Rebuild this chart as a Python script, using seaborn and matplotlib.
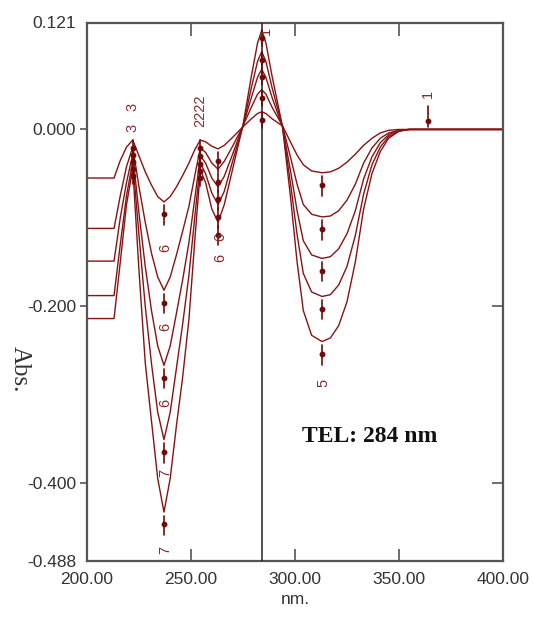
import numpy as np
import pandas as pd
import matplotlib
matplotlib.use("Agg")
import matplotlib.pyplot as plt
import seaborn as sns

# ---------------- data ----------------
wavelength = [200, 213, 216, 219, 222, 225, 228, 231, 234, 237, 240, 243, 246, 249, 252,
              254.5, 257, 260, 263, 266, 270, 275, 279, 282, 284, 286, 289, 294, 298, 301,
              304, 308, 313, 317, 321, 325, 329, 333, 337, 341, 345, 350, 355, 400]

curve_1 = [-0.055, -0.055, -0.035, -0.020, -0.012, -0.030, -0.048, -0.063, -0.076, -0.082,
           -0.076, -0.065, -0.052, -0.038, -0.022, -0.012, -0.014, -0.019, -0.022, -0.018,
           -0.009, 0.003, 0.012, 0.018, 0.020, 0.018, 0.012, 0.004, -0.015, -0.029,
           -0.040, -0.047, -0.049, -0.048, -0.044, -0.037, -0.028, -0.018, -0.010, -0.004,
           -0.001, 0.0, 0.0, 0.0]
curve_2 = [-0.112, -0.112, -0.075, -0.042, -0.020, -0.065, -0.105, -0.140, -0.167, -0.182,
           -0.167, -0.142, -0.115, -0.087, -0.050, -0.021, -0.026, -0.038, -0.045, -0.036,
           -0.019, 0.004, 0.025, 0.040, 0.045, 0.040, 0.025, 0.004, -0.033, -0.062,
           -0.085, -0.096, -0.099, -0.098, -0.092, -0.080, -0.062, -0.038, -0.021, -0.010,
           -0.004, -0.001, 0.0, 0.0]
curve_3 = [-0.149, -0.149, -0.100, -0.060, -0.028, -0.095, -0.155, -0.205, -0.245, -0.267,
           -0.245, -0.208, -0.170, -0.128, -0.075, -0.030, -0.038, -0.055, -0.065, -0.053,
           -0.028, 0.004, 0.036, 0.059, 0.068, 0.059, 0.036, 0.003, -0.049, -0.092,
           -0.126, -0.142, -0.146, -0.144, -0.135, -0.118, -0.092, -0.056, -0.031, -0.015,
           -0.006, -0.001, 0.0, 0.0]
curve_4 = [-0.188, -0.188, -0.130, -0.075, -0.036, -0.120, -0.200, -0.265, -0.320, -0.351,
           -0.320, -0.270, -0.220, -0.165, -0.095, -0.038, -0.050, -0.072, -0.085, -0.070,
           -0.036, 0.004, 0.047, 0.077, 0.088, 0.077, 0.047, 0.003, -0.064, -0.119,
           -0.163, -0.184, -0.189, -0.187, -0.176, -0.155, -0.120, -0.073, -0.040, -0.020,
           -0.008, -0.002, 0.0, 0.0]
curve_5 = [-0.214, -0.214, -0.150, -0.085, -0.044, -0.160, -0.264, -0.330, -0.395, -0.433,
           -0.395, -0.335, -0.280, -0.215, -0.120, -0.046, -0.060, -0.090, -0.105, -0.085,
           -0.045, 0.005, 0.060, 0.098, 0.112, 0.098, 0.060, 0.003, -0.080, -0.150,
           -0.205, -0.233, -0.240, -0.236, -0.222, -0.195, -0.150, -0.090, -0.050, -0.025,
           -0.010, -0.002, 0.0, 0.0]

curve_names = ["1", "2", "3", "4", "5"]
curves = [curve_1, curve_2, curve_3, curve_4, curve_5]

peak_nm = [222, 254.5, 284]
valley_nm = [237, 263, 313]

x_ticks = [200, 250, 300, 350, 400]
x_tick_labels = ["200.00", "250.00", "300.00", "350.00", "400.00"]
y_ticks = [0.121, 0.0, -0.2, -0.4, -0.488]
y_tick_labels = ["0.121", "0.000", "-0.200", "-0.400", "-0.488"]

tel_nm = 284
tel_text = "TEL: 284 nm"

# peak-pick labels: (text, nm, value)
pick_labels = [("3", 222, 0.025), ("3", 222, 0.002), ("2222", 254.5, 0.021),
               ("6", 237.5, -0.134), ("6", 237.5, -0.224), ("6", 237.5, -0.309),
               ("7", 237.5, -0.389), ("7", 237.5, -0.476),
               ("6", 264, -0.122), ("6", 264, -0.145),
               ("5", 313.5, -0.287), ("1", 364, 0.040), ("1", 286, 0.112)]

# ---------------- figure ----------------
sns.set_style("white")
plt.rcParams["font.family"] = ["Liberation Sans", "DejaVu Sans"]

line_col = "#861313"
dot_col = "#6e0a0a"
spine_col = "#555555"

df = pd.concat([pd.DataFrame({"nm": wavelength, "abs": c, "curve": n})
                for n, c in zip(curve_names, curves)], ignore_index=True)

fig = plt.figure(figsize=(5.34, 6.19), dpi=100)
ax = fig.add_axes([87 / 534, 1 - 560.7 / 619, (503 - 87) / 534, (560.7 - 22.5) / 619])

sns.lineplot(data=df, x="nm", y="abs", hue="curve", estimator=None, sort=True,
             palette=[line_col] * 5, linewidth=1.0, legend=False, ax=ax)

# TEL line
ax.axvline(tel_nm, color="#222222", linewidth=1.1, zorder=3)

# peak-pick markers
for c in curves:
    for p in peak_nm:
        v = c[wavelength.index(p)]
        ax.plot([p, p], [v - 0.018, v], color=dot_col, linewidth=1.2, zorder=4)
        ax.plot([p], [v - 0.009], "o", color=dot_col, markersize=3.2, zorder=5)
    for p in valley_nm:
        v = c[wavelength.index(p)]
        ax.plot([p, p], [v - 0.004, v - 0.026], color=dot_col, linewidth=1.2, zorder=4)
        ax.plot([p], [v - 0.014], "o", color=dot_col, markersize=3.2, zorder=5)
# marker on the baseline
ax.plot([364, 364], [0.003, 0.026], color=dot_col, linewidth=1.2, zorder=4)
ax.plot([364], [0.010], "o", color=dot_col, markersize=3.2, zorder=5)

for t, xx, yy in pick_labels:
    ax.text(xx, yy, t, rotation=90, ha="center", va="center", fontsize=10.5,
            color="#8a2a2a", zorder=6)

ax.text(0.68, 0.23, tel_text, transform=ax.transAxes, ha="center", va="center",
        fontsize=17, fontweight="bold", family=["Liberation Serif", "DejaVu Serif"],
        color="#111111")

ax.set_xlim(200, 400)
ax.set_ylim(-0.488, 0.121)
ax.set_xticks(x_ticks)
ax.set_xticklabels(x_tick_labels)
ax.set_yticks(y_ticks)
ax.set_yticklabels(y_tick_labels)

ax.tick_params(axis="x", direction="in", top=True, bottom=True, length=9, width=1.2,
               color=spine_col, labelsize=12.5, labelcolor="#333333", pad=8)
ax.tick_params(axis="y", direction="out", left=True, right=False, length=5, width=1.2,
               color=spine_col, labelsize=12.5, labelcolor="#333333", pad=3)
yt = ax.yaxis.get_major_ticks()
yt[0].tick1line.set_visible(False)
yt[-1].tick1line.set_visible(False)

sec = ax.secondary_yaxis("right")
sec.set_yticks([-0.2, -0.4])
sec.tick_params(direction="in", length=8, width=1.2, color=spine_col, labelright=False)
sec.spines["right"].set_visible(False)

for s in ax.spines.values():
    s.set_color(spine_col)
    s.set_linewidth(1.6)

ax.set_xlabel("nm.", fontsize=12.5, color="#333333", labelpad=4)
ax.set_ylabel("Abs.", fontsize=18, family=["Liberation Serif", "DejaVu Serif"],
              color="#333333", rotation=270, va="center")
ax.yaxis.set_label_coords(-0.162, 0.355)

fig.savefig("out.png", dpi=100, facecolor="white")
